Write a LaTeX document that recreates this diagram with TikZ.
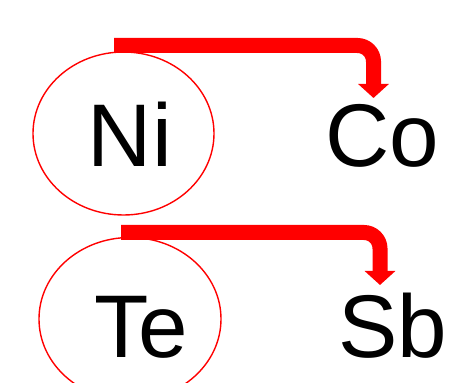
\documentclass[tikz,border=0pt]{standalone}
\usepackage{fontspec}
\setmainfont{Liberation Sans}
\usetikzlibrary{shapes.geometric,arrows.meta}
\begin{document}
\begin{tikzpicture}[x=1pt,y=1pt,
  ring/.style={draw=red,line width=1.4pt,ellipse,inner sep=0pt},
  elem/.style={inner sep=0pt,anchor=base,font=\fontsize{89}{89}\selectfont},
  bigarrow/.style={draw=red,line width=15pt,rounded corners=16pt,
    -{Triangle[width=30pt,length=14pt]}}]
\clip (0,0) rectangle (451,383);
\useasboundingbox (0,0) rectangle (451,383);
% first row
\node[ring,minimum width=181pt,minimum height=163pt] (r1) at (123.5,249.5) {};
\node[elem] (ni) at (130,216) {Ni};
\node[elem] (co) at (382,216) {Co};
\coordinate (s1) at (114,337.5);
\coordinate (t1) at (373.5,285);
\draw[bigarrow] (s1) -| (t1);
% second row
\node[ring,minimum width=182pt,minimum height=163pt] (r2) at (130,64) {};
\node[elem] (te) at (141,25) {Te};
\node[elem] (sb) at (393,25) {Sb};
\coordinate (s2) at (121,150.5);
\coordinate (t2) at (380,98);
\draw[bigarrow] (s2) -| (t2);
\end{tikzpicture}
\end{document}
